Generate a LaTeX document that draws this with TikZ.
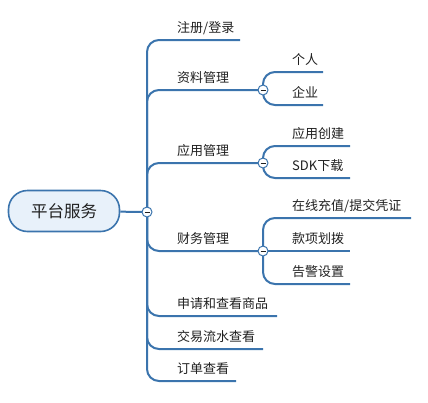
\documentclass[tikz,border=0pt]{standalone}
\usepackage{fontspec}
\setmainfont{Noto Sans CJK SC}
\usepackage{xcolor}
\usepackage{tikz}

\definecolor{lineblue}{HTML}{3B74AD}
\definecolor{rootfill}{HTML}{E8F1FA}
\definecolor{txtgray}{HTML}{202020}

\tikzset{
  branch/.style={draw=lineblue,line width=2pt,rounded corners=12pt},
  lbl/.style={anchor=base west,inner sep=0pt,text=txtgray,font=\fontsize{13}{15}\selectfont},
  knob/.style={circle,draw=lineblue,fill=white,line width=1pt,minimum size=10pt,inner sep=0pt,
    path picture={\draw[txtgray,line width=1pt]
      ([xshift=-2.5pt]path picture bounding box.center) -- ([xshift=2.5pt]path picture bounding box.center);}},
}

\begin{document}
\begin{tikzpicture}[x=1pt,y=-1pt]
\useasboundingbox (0,0) rectangle (428,402);

	% root and its knob
	\node[draw=lineblue,fill=rootfill,line width=1.6pt,rounded corners=19pt,
	  minimum width=111pt,minimum height=41pt,text=txtgray,
	  font=\fontsize{16.5}{18}\selectfont] (root) at (64,211) {平台服务};
	\coordinate (rk) at (147,212);

	% ends of the main lines
	\coordinate (m1) at (240,40);
	\coordinate (sk1) at (263,90);
	\coordinate (sk2) at (263,163);
	\coordinate (sk3) at (263,251);
	\coordinate (m5) at (277,316);
	\coordinate (m6) at (263,349);
	\coordinate (m7) at (236,381);

	% ends of the sub lines
	\coordinate (a1) at (323,72);
	\coordinate (a2) at (323,105);
	\coordinate (b1) at (350,146);
	\coordinate (b2) at (350,178);
	\coordinate (c1) at (411,218);
	\coordinate (c2) at (350,251);
	\coordinate (c3) at (350,284);

	\draw[branch] (root) -- (rk);
	\draw[branch] (rk) |- (m1);
	\draw[branch] (rk) |- (sk1);
	\draw[branch] (rk) |- (sk2);
	\draw[branch] (rk) |- (sk3);
	\draw[branch] (rk) |- (m5);
	\draw[branch] (rk) |- (m6);
	\draw[branch] (rk) |- (m7);

	\draw[branch] (sk1) |- (a1);
	\draw[branch] (sk1) |- (a2);
	\draw[branch] (sk2) |- (b1);
	\draw[branch] (sk2) |- (b2);
	\draw[branch] (sk3) |- (c1);
	\draw[branch] (sk3) -- (c2);
	\draw[branch] (sk3) |- (c3);

	% knobs on top
	\node[knob] (rkn) at (rk) {};
	\node[knob] (sk1n) at (sk1) {};
	\node[knob] (sk2n) at (sk2) {};
	\node[knob] (sk3n) at (sk3) {};

	% main labels
	\node[lbl] (zc) at (177,32.5) {注册/登录};
	\node[lbl] (zl) at (177,82.5) {资料管理};
	\node[lbl] (yy) at (177,155.5) {应用管理};
	\node[lbl] (cw) at (177,243.5) {财务管理};
	\node[lbl] (sq) at (177,308.5) {申请和查看商品};
	\node[lbl] (jy) at (177,341.5) {交易流水查看};
	\node[lbl] (dd) at (177,373.5) {订单查看};

	% sub labels
	\node[lbl] (gr) at (292,64.5) {个人};
	\node[lbl] (qy) at (292,97.5) {企业};
	\node[lbl] (cj) at (292,138.5) {应用创建};
	\node[lbl] (sdk) at (292,170.5) {SDK下载};
	\node[lbl] (cz) at (292,210.5) {在线充值/提交凭证};
	\node[lbl] (kx) at (292,243.5) {款项划拨};
	\node[lbl] (gj) at (292,276.5) {告警设置};
\end{tikzpicture}
\end{document}
